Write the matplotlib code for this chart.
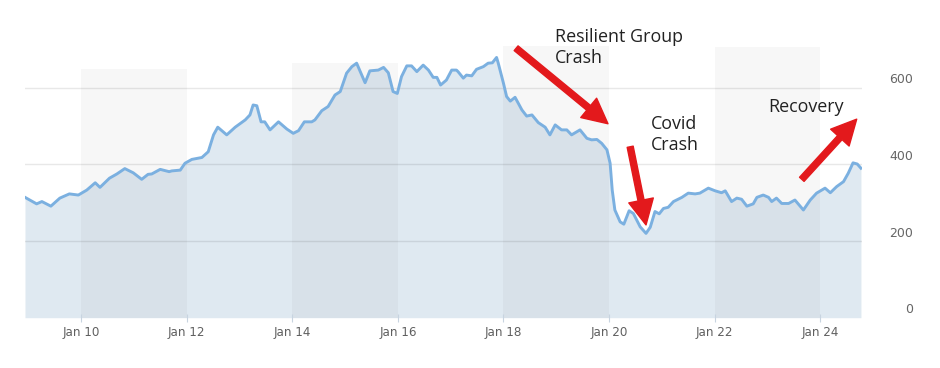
import matplotlib
matplotlib.use("Agg")
import matplotlib.pyplot as plt
from matplotlib.transforms import ScaledTranslation

# ---- data (decimal year, value) ----
years = [2008.94, 2009.16, 2009.26, 2009.43, 2009.60, 2009.78, 2009.95, 2010.11, 2010.27, 2010.36,
         2010.54, 2010.68, 2010.83, 2010.99, 2011.15, 2011.27, 2011.34, 2011.50, 2011.67, 2011.72,
         2011.88, 2011.97, 2012.10, 2012.29, 2012.41, 2012.51, 2012.59, 2012.76, 2012.92, 2013.11,
         2013.20, 2013.26, 2013.33, 2013.41, 2013.48, 2013.58, 2013.74, 2013.90, 2014.02, 2014.12,
         2014.23, 2014.37, 2014.43, 2014.56, 2014.68, 2014.81, 2014.91, 2015.03, 2015.13, 2015.22,
         2015.38, 2015.47, 2015.63, 2015.73, 2015.82, 2015.91, 2015.99, 2016.07, 2016.17, 2016.26,
         2016.36, 2016.48, 2016.58, 2016.67, 2016.74, 2016.81, 2016.92, 2017.02, 2017.11, 2017.14,
         2017.24, 2017.30, 2017.40, 2017.49, 2017.62, 2017.71, 2017.79, 2017.87, 2017.90, 2018.00,
         2018.06, 2018.13, 2018.22, 2018.35, 2018.44, 2018.54, 2018.66, 2018.79, 2018.88, 2018.98,
         2019.10, 2019.20, 2019.29, 2019.45, 2019.58, 2019.67, 2019.77, 2019.86, 2019.96, 2020.02,
         2020.06, 2020.11, 2020.21, 2020.28, 2020.38, 2020.46, 2020.59, 2020.70, 2020.78, 2020.87,
         2020.95, 2021.03, 2021.12, 2021.22, 2021.38, 2021.50, 2021.63, 2021.72, 2021.88, 2022.01,
         2022.13, 2022.20, 2022.32, 2022.42, 2022.51, 2022.61, 2022.73, 2022.80, 2022.92, 2023.02,
         2023.08, 2023.17, 2023.27, 2023.40, 2023.52, 2023.68, 2023.81, 2023.93, 2024.09, 2024.19,
         2024.31, 2024.44, 2024.53, 2024.62, 2024.70, 2024.77]
values = [314, 297, 303, 291, 312, 323, 320, 333, 352, 340,
          364, 375, 389, 378, 361, 374, 375, 387, 381, 383,
          385, 403, 413, 418, 433, 477, 497, 477, 497, 516,
          529, 555, 553, 511, 511, 490, 511, 492, 481, 488,
          511, 511, 516, 540, 551, 581, 590, 638, 655, 664,
          613, 644, 646, 653, 639, 590, 585, 629, 657, 657,
          642, 659, 646, 627, 627, 607, 620, 646, 646, 642,
          625, 633, 631, 648, 655, 664, 665, 679, 665, 612,
          577, 565, 575, 542, 526, 529, 509, 497, 477, 503,
          490, 490, 477, 490, 468, 464, 465, 455, 438, 403,
          333, 281, 250, 244, 279, 272, 237, 220, 236, 277,
          271, 285, 288, 303, 314, 325, 323, 325, 338, 331,
          326, 331, 303, 312, 309, 291, 297, 314, 320, 314,
          303, 312, 298, 298, 307, 281, 307, 325, 338, 326,
          342, 355, 377, 404, 401, 390]

tick_years = [2010, 2012, 2014, 2016, 2018, 2020, 2022, 2024]
tick_labels = ["Jan 10", "Jan 12", "Jan 14", "Jan 16", "Jan 18", "Jan 20", "Jan 22", "Jan 24"]
y_ticks = [0, 200, 400, 600]
y_tick_labels = ["0", "200", "400", "600"]
band_starts = [2010, 2014, 2018, 2022]
band_tops = [648, 665, 709, 706]

ann_texts = ["Resilient Group\nCrash", "Covid\nCrash", "Recovery"]

# ---- figure ----
fig = plt.figure(figsize=(9.4, 3.68), dpi=100)
W, H = 940, 368
ax = fig.add_axes([25 / W, (H - 317.7) / H, (862 - 25) / W, (317.7 - 40) / H])
ymax = 724.5
ax.set_xlim(2008.94, 2024.79)
ax.set_ylim(0, ymax)

ax.fill_between(years, values, 0, color="#dfe9f1", lw=0, zorder=1)
for s, t in zip(band_starts, band_tops):
    ax.axvspan(s, s + 2, ymin=0, ymax=t / ymax, color="k", alpha=0.032, lw=0, zorder=1.5)
ax.plot(years, values, color="#7bb0e0", lw=2.1, zorder=3, solid_joinstyle="round")

for sp in ax.spines.values():
    sp.set_visible(False)

ax.set_yticks(y_ticks[1:])
ax.yaxis.grid(True, color="#000000", alpha=0.09, lw=1)
ax.set_axisbelow(False)
ax.yaxis.set_zorder(2.5)
ax.tick_params(axis="y", left=False, right=False, labelleft=False, labelright=False)

ax.set_xticks(tick_years)
ax.set_xticklabels(tick_labels, fontsize=9.5, color="#606060", family="DejaVu Sans",
                   fontstretch="condensed")
ax.tick_params(axis="x", direction="inout", length=6, color="#c8d4e0", pad=3)

# right-hand value labels
for v, lab in zip(y_ticks, y_tick_labels):
    ax.text(1.0, v, lab, transform=ax.get_yaxis_transform() +
            ScaledTranslation(51 / 100, 8 / 100, fig.dpi_scale_trans),
            ha="right", va="center", fontsize=9, color="#666666", family="DejaVu Sans")

# annotation texts
tfont = dict(family="Open Sans", fontsize=12.9, color="#222222")
fig.text(555 / W, 1 - 47.5 / H, ann_texts[0], ha="left", va="center", linespacing=1.15, **tfont)
fig.text(651 / W, 1 - 134.5 / H, ann_texts[1], ha="left", va="center", linespacing=1.15, **tfont)
fig.text(768 / W, 1 - 107 / H, ann_texts[2], ha="left", va="center", **tfont)

# red arrows
arrow_tails = [(2018.24, 703), (2020.40, 446), (2023.65, 361)]
arrow_heads = [(2019.98, 506), (2020.70, 242), (2024.69, 518)]
for tail, head in zip(arrow_tails, arrow_heads):
    ax.annotate("", xy=head, xytext=tail, xycoords="data", textcoords="data",
                annotation_clip=False,
                arrowprops=dict(arrowstyle="simple,head_length=0.9,head_width=0.9,tail_width=0.22",
                                color="#e3191c", shrinkA=0, shrinkB=0, mutation_scale=20),
                zorder=5)

fig.savefig("out.png", dpi=100, facecolor="white")
